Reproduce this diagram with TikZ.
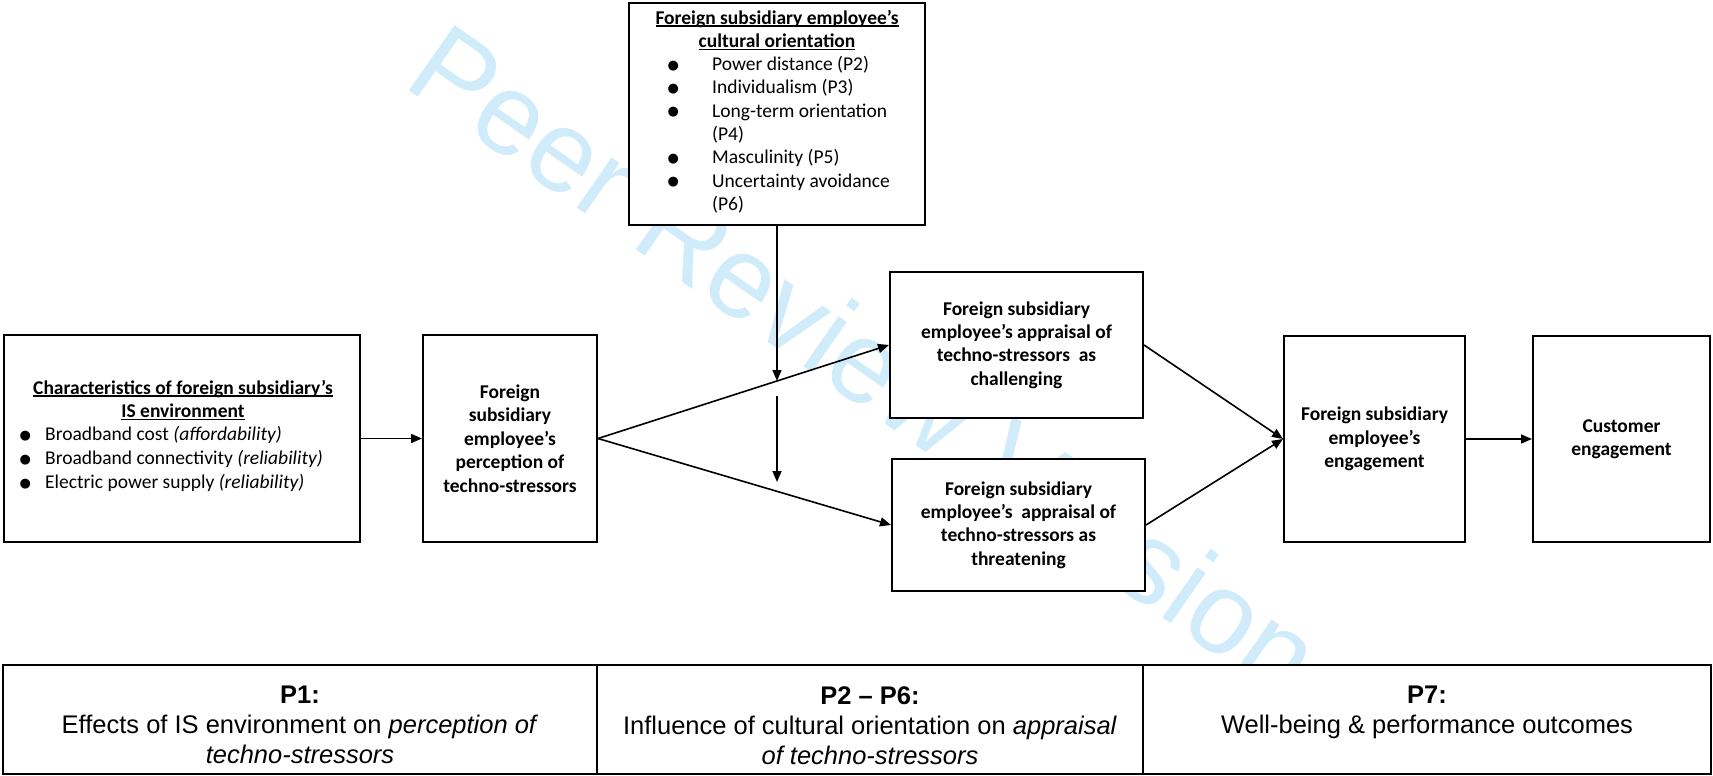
\documentclass[tikz,border=0pt]{standalone}
\usepackage{fontspec}
\setmainfont{Carlito}
\newfontfamily\arialf{Liberation Sans}
\newfontfamily\dejavu{DejaVu Sans}
\usetikzlibrary{arrows.meta,calc}
\definecolor{wmblue}{RGB}{208,236,251}
\newcommand\bul{\raisebox{1.5pt}{\dejavu\fontsize{13pt}{13pt}\selectfont ●}}
\newcommand\ulx[1]{\setbox0\hbox{#1}\rlap{\rule[-3pt]{\wd0}{1.6pt}}\box0}
\newcommand\itm[1]{\makebox[39pt][l]{\makebox[0pt][c]{\bul}}#1}
\newcommand\itmL[1]{\makebox[20pt][l]{\makebox[0pt][c]{\bul}}#1}
\begin{document}
\begin{tikzpicture}[x=1pt,y=-1pt,
  box/.style={draw, fill=white, line width=2pt, inner sep=0pt, align=center,
    font=\fontsize{19.5pt}{23.4pt}\selectfont\bfseries},
  txt/.style={inner sep=0pt, align=center, font=\fontsize{19.5pt}{23.4pt}\selectfont\bfseries},
  lst/.style={inner sep=0pt, anchor=mid west, font=\fontsize{19.5pt}{23.4pt}\selectfont},
  arr/.style={-{Triangle[length=11pt,width=9pt]}, line width=1.6pt},
  cell/.style={draw, line width=2.5pt, fill=white, inner sep=0pt, minimum height=109pt},
  ctxt/.style={inner sep=0pt, anchor=north, align=center, font=\arialf\fontsize{25.5pt}{30pt}\selectfont}]
\useasboundingbox (0,0) rectangle (1713,776);
% watermark (behind everything)
\node[rotate=-35, text=wmblue, inner sep=0pt, font=\arialf\fontsize{116pt}{116pt}\selectfont] (wmark) at (866,360) {Peer Review Version};

% connectors
\node[box, minimum width=356pt, minimum height=207pt] (env) at (182,438.5) {};
\node[box, minimum width=174pt, minimum height=207pt] (perc) at (510,438.5) {Foreign\\subsidiary\\employee’s\\perception of\\techno-stressors};
\node[box, minimum width=296pt, minimum height=222pt] (cult) at (777,114) {};
\node[box, minimum width=253pt, minimum height=146pt] (chal) at (1016.5,345) {Foreign subsidiary\\employee’s appraisal of\\techno-stressors\ \ as\\challenging};
\node[box, minimum width=253pt, minimum height=132pt] (thr) at (1018.5,525) {Foreign subsidiary\\employee’s\ \ appraisal of\\techno-stressors as\\threatening};
\node[box, minimum width=181pt, minimum height=206pt] (eng) at (1374.5,439) {Foreign subsidiary\\employee’s\\engagement};
\node[box, minimum width=177pt, minimum height=206pt] (cust) at (1621.5,439) {Customer\\engagement};

% cultural orientation contents
\node[txt, anchor=mid] (cultT1) at (777,21.7) {\ulx{Foreign subsidiary employee’s}};
\node[txt, anchor=mid] (cultT2) at (777,45) {\ulx{cultural orientation}};
\node[lst] (c1) at (673,68.3) {\itm{Power distance (P2)}};
\node[lst] (c2) at (673,91.6) {\itm{Individualism (P3)}};
\node[lst] (c3) at (673,114.9) {\itm{Long-term orientation}};
\node[lst] (c4) at (673,138.2) {\hspace*{39pt}(P4)};
\node[lst] (c5) at (673,161.5) {\itm{Masculinity (P5)}};
\node[lst] (c6) at (673,184.8) {\itm{Uncertainty avoidance}};
\node[lst] (c7) at (673,208.1) {\hspace*{39pt}(P6)};

% IS environment contents
\node[txt, anchor=mid] (envT1) at (183,391.7) {\ulx{Characteristics of foreign subsidiary’s}};
\node[txt, anchor=mid] (envT2) at (183,415) {\ulx{IS environment}};
\node[lst] (e1) at (25,438.5) {\itmL{Broadband cost \textit{(affordability)}}};
\node[lst] (e2) at (25,462.5) {\itmL{Broadband connectivity \textit{(reliability)}}};
\node[lst] (e3) at (25,486.5) {\itmL{Electric power supply \textit{(reliability)}}};

% connectors
\draw[arr] (env) -- (perc);
\draw[arr] (perc.east) -- (chal.west);
\draw[arr] (perc.east) -- (thr.west);
\draw[arr] (chal.east) -- (eng.west);
\draw[arr] (thr.east) -- (eng.west);
\draw[arr] (eng) -- (cust);
\coordinate (m1) at (777,381);
\coordinate (m2) at (777,396);
\coordinate (m3) at (777,482);
\draw[arr] (cult.south) -- (m1);
\draw[arr] (m2) -- (m3);

% bottom table
\node[cell, minimum width=594pt] (t1) at (300,719.5) {};
\node[cell, minimum width=546pt] (t2) at (870,719.5) {};
\node[cell, minimum width=568pt] (t3) at (1427,719.5) {};
\node[ctxt] (t1x) at (300,686) {\textbf{P1:}\\Effects of IS environment on \textit{perception of}\\\textit{techno-stressors}};
\node[ctxt] (t2x) at (870,686) {\textbf{P2 – P6:}\\Influence of cultural orientation on \textit{appraisal}\\\textit{of techno-stressors}};
\node[ctxt] (t3x) at (1427,686) {\textbf{P7:}\\Well-being \& performance outcomes};
\end{tikzpicture}
\end{document}
